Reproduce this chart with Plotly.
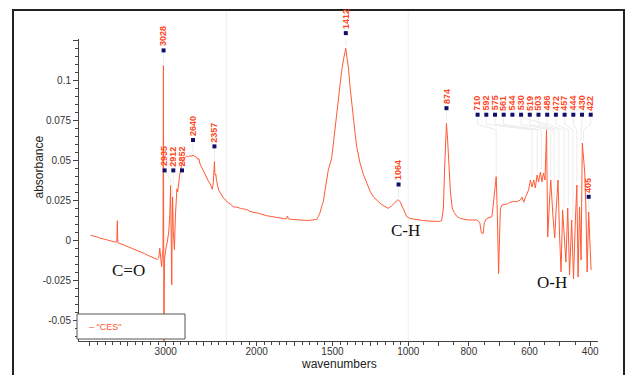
import numpy as np
import plotly.graph_objects as go

# ---------------- data ----------------
series_name = '"CES"'

wavenumber = [
    3990, 3960, 3930, 3900, 3870, 3840, 3800, 3770, 3740, 3700, 3665, 3645, 3638, 3632,
    3600, 3560, 3520, 3480, 3440, 3400, 3360, 3320, 3280, 3240, 3200, 3160, 3130, 3112,
    3092, 3078, 3066, 3054, 3043, 3036, 3030, 3024, 3016, 3005, 2995, 2978, 2960, 2946,
    2936, 2928, 2920, 2915, 2909, 2900, 2885, 2872, 2852, 2842, 2825, 2811, 2790, 2767,
    2745, 2723, 2700, 2680, 2660, 2640, 2615, 2591, 2575, 2563, 2547, 2525, 2504, 2480,
    2459, 2437, 2416, 2398, 2385, 2372, 2362, 2357, 2351, 2345, 2339, 2330, 2313, 2300,
    2285, 2270, 2255, 2240, 2225, 2210, 2197, 2185, 2170, 2154, 2135, 2120, 2100, 2080,
    2065, 2044, 2025, 2005, 1989, 1970, 1956, 1935, 1910, 1880, 1860, 1846, 1825, 1805,
    1797, 1790, 1770, 1745, 1714, 1690, 1665, 1640, 1620, 1604, 1593, 1582, 1571, 1560,
    1549, 1538, 1527, 1516, 1505, 1498, 1490, 1486, 1480, 1472, 1461, 1450, 1439, 1425,
    1412, 1403, 1395, 1384, 1373, 1362, 1350, 1340, 1318, 1296, 1274, 1252, 1230, 1208,
    1186, 1160, 1131, 1109, 1085, 1068, 1054, 1032, 1010, 995, 975, 950, 925, 900,
    890, 884, 880, 876, 874, 870, 866, 861, 855, 848, 839, 828, 806, 785,
    773, 764, 759, 753, 749, 742, 730, 724, 718, 714, 710, 707, 704, 702,
    699, 696, 691, 684, 678, 672, 666, 660, 652, 645, 638, 630, 625, 619,
    613, 608, 603, 597, 592, 586, 581, 575, 570, 564, 559, 554, 549, 544,
    540, 534, 530, 523, 517, 512, 506, 501, 496, 491, 485, 480, 474, 468,
    461, 455, 449, 444, 440, 435, 430, 426, 418, 414, 410, 405, 397,
]

absorbance = [
    0.0030, 0.0027, 0.0021, 0.0018, 0.0012, 0.0010, 0.0004, 0.0000, -0.0004, -0.0008, -0.0013, -0.0011, 0.0120, -0.0016,
    -0.0022, -0.0030, -0.0036, -0.0045, -0.0052, -0.0060, -0.0068, -0.0076, -0.0085, -0.0095, -0.0103, -0.0110, -0.0116, -0.0121,
    -0.0112, -0.0052, -0.0110, -0.0167, -0.0085, -0.0060, 0.1090, -0.0700, -0.0120, -0.0060, -0.0045, -0.0010, 0.0050, 0.0150,
    0.0340, 0.0040, -0.0280, 0.0080, 0.0270, 0.0060, -0.0060, 0.0150, 0.0320, 0.0300, 0.0380, 0.0420, 0.0470, 0.0500,
    0.0515, 0.0525, 0.0520, 0.0527, 0.0523, 0.0530, 0.0521, 0.0517, 0.0503, 0.0508, 0.0475, 0.0452, 0.0427, 0.0405,
    0.0386, 0.0368, 0.0354, 0.0330, 0.0317, 0.0360, 0.0455, 0.0490, 0.0415, 0.0405, 0.0412, 0.0372, 0.0333, 0.0310,
    0.0298, 0.0282, 0.0276, 0.0262, 0.0258, 0.0248, 0.0240, 0.0232, 0.0222, 0.0208, 0.0206, 0.0200, 0.0196, 0.0193,
    0.0190, 0.0178, 0.0176, 0.0170, 0.0167, 0.0160, 0.0156, 0.0152, 0.0148, 0.0142, 0.0139, 0.0135, 0.0133, 0.0131,
    0.0150, 0.0132, 0.0129, 0.0127, 0.0125, 0.0123, 0.0122, 0.0124, 0.0126, 0.0129, 0.0146, 0.0170, 0.0210, 0.0240,
    0.0310, 0.0380, 0.0440, 0.0475, 0.0515, 0.0570, 0.0640, 0.0655, 0.0705, 0.0760, 0.0880, 0.0970, 0.1060, 0.1140,
    0.1198, 0.1130, 0.1080, 0.0958, 0.0850, 0.0750, 0.0660, 0.0583, 0.0480, 0.0410, 0.0354, 0.0305, 0.0270, 0.0248,
    0.0230, 0.0212, 0.0198, 0.0215, 0.0240, 0.0252, 0.0240, 0.0188, 0.0146, 0.0135, 0.0128, 0.0121, 0.0118, 0.0116,
    0.0120, 0.0200, 0.0450, 0.0690, 0.0729, 0.0620, 0.0500, 0.0300, 0.0200, 0.0170, 0.0146, 0.0135, 0.0126, 0.0126,
    0.0125, 0.0108, 0.0045, 0.0040, 0.0110, 0.0133, 0.0140, 0.0146, 0.0250, 0.0350, 0.0396, 0.0220, -0.0040, -0.0210,
    0.0020, 0.0195, 0.0219, 0.0222, 0.0228, 0.0226, 0.0234, 0.0236, 0.0242, 0.0238, 0.0246, 0.0250, 0.0268, 0.0236,
    0.0270, 0.0290, 0.0313, 0.0375, 0.0331, 0.0375, 0.0325, 0.0406, 0.0363, 0.0425, 0.0363, 0.0419, 0.0375, 0.0688,
    0.0019, 0.0250, 0.0375, 0.0156, 0.0013, 0.0200, 0.0375, 0.0031, -0.0200, 0.0188, 0.0000, -0.0138, 0.0200, -0.0219,
    0.0125, -0.0244, 0.0113, 0.0344, -0.0231, 0.0206, -0.0125, 0.0606, 0.0425, 0.0188, -0.0200, 0.0175, -0.0188,
]

# peak labels, grouped as the instrument software stacked them
peak_label_groups = [
    [3028], [2935, 2912, 2852], [2640], [2357], [1412], [1064], [874],
    [710, 592, 575, 561, 544, 530, 519, 503, 486, 472, 457, 444, 430, 422],
    [405],
]

x_labeled_ticks = [3000, 2000, 1500, 1000, 800, 600, 400]
x_unlabeled_ticks = [4000, 3500, 2500, 1750, 1250, 900, 700, 500]
y_ticks = [-0.05, -0.025, 0, 0.025, 0.05, 0.075, 0.1, 0.125]
y_tick_text = ["-0.05", "-0.025", "0", "0.025", "0.05", "0.075", "0.1", ""]

band_names = ["C=O", "C-H", "O-H"]
band_wavenumbers = [3495, 1020, 525]
band_absorbance = [-0.0192, 0.0062, -0.0267]

# ---------------- piecewise (expanded) wavenumber scale ----------------
# the instrument plots with scale changes at 2200 and 1000 cm-1 (x1, x2, x4)
S = 0.0758
U3000 = 165.7
U2200 = U3000 + 800 * S
U1000 = U2200 + 1200 * 2 * S
U400 = U1000 + 600 * 4 * S
U4000 = U3000 - 1000 * S
U300 = U400 + 100 * 4 * S


def to_u(w):
    w = np.asarray(w, dtype=float)
    return np.interp(w, [300, 400, 1000, 2200, 4000], [U300, U400, U1000, U2200, U4000])


X0, X1 = 79.0, 598.0           # plot area in page px (u is page px)
Y0, Y1 = -0.063125, 0.125625
PX_PER_UNIT = 1600.0
W_PLOT = X1 - X0
H_PLOT = (Y1 - Y0) * PX_PER_UNIT
BOTTOM_PX = 341.0


def px(xp):
    return (xp - X0) / W_PLOT


def py(yp):
    return (BOTTOM_PX - yp) / H_PLOT


def pv(v):
    return (v - Y0) / (Y1 - Y0)


wn = np.array(wavenumber, dtype=float)
ab = np.array(absorbance, dtype=float)
u = to_u(wn)

LINE = "#ff5a36"
LABEL = "#ff4422"


def peak_top(w):
    m = np.abs(wn - w) <= 6
    return float(ab[m].max()) if m.any() else float(np.interp(-w, -wn, ab))


# ---------------- peak label layout ----------------
spacing = 8.7
shapes = []
lead_x, lead_y, label_ann = [], [], []
for grp in peak_label_groups:
    nat = to_u(grp)
    tops = [peak_top(w) for w in grp]
    level = max(tops) + 0.0095
    n = len(grp)
    if n == 1:
        pos = [float(nat[0])]
    else:
        c = float(np.mean(nat))
        pos = [c + (i - (n - 1) / 2) * spacing for i in range(n)]
        over = pos[-1] - (X1 - 7.3)
        if over > 0:
            pos = [p - over for p in pos]
    for w, p, nu, t in zip(grp, pos, nat, tops):
        k1 = level - 0.006
        k2 = level - 0.0095
        end = t + 0.0015
        if end > k2:
            end = min(end, k1)
            lead_x += [p, float(nu), float(nu), None]
            lead_y += [level, k1 if abs(p - nu) > 1 else end, end, None]
        else:
            lead_x += [p, p, float(nu), float(nu), None]
            lead_y += [level, k1, k2, end, None]
        # marker square (paper coords so it shows above the axis top too)
        cx, cy = px(p), pv(level)
        dx, dy = 2.0 / W_PLOT, 2.0 / H_PLOT
        shapes.append(dict(type="rect", xref="paper", yref="paper", x0=cx - dx, x1=cx + dx,
                           y0=cy - dy, y1=cy + dy, line=dict(width=0), fillcolor="#10106b", layer="above"))
        label_ann.append(dict(
            x=cx, y=cy, xref="paper", yref="paper", text=f"<b>{w}</b>", showarrow=False,
            textangle=-90, xanchor="center", yanchor="bottom", yshift=2,
            font=dict(size=9, color=LABEL, family="Liberation Sans, Arial"),
        ))

fig = go.Figure()
fig.add_trace(go.Scatter(x=lead_x, y=lead_y, mode="lines", line=dict(color="#ececec", width=1),
                         hoverinfo="skip", cliponaxis=False, showlegend=False))
fig.add_trace(go.Scatter(x=u, y=ab, mode="lines", name=series_name,
                         line=dict(color=LINE, width=1), showlegend=False))

# ticks
minor_w = list(range(4000, 2200, -100)) + list(range(2200, 1000, -50)) + list(range(1000, 390, -50))
maj_w = x_labeled_ticks + x_unlabeled_ticks
minor_w = [w for w in minor_w if w not in maj_w]
x_tickvals = list(to_u(maj_w))
x_ticktext = [str(w) for w in x_labeled_ticks] + [""] * len(x_unlabeled_ticks)
y_minor = [round(v, 4) for v in np.arange(-0.06, 0.1251, 0.005) if all(abs(v - t) > 1e-6 for t in y_ticks)]

AX = "#444444"
fig.update_xaxes(range=[X0, X1], showgrid=False, zeroline=False, showline=True, linecolor=AX, linewidth=1,
                 ticks="outside", ticklen=4, tickcolor=AX, tickwidth=1, ticklabelstandoff=-3,
                 tickmode="array", tickvals=x_tickvals, ticktext=x_ticktext,
                 tickfont=dict(size=10, color="#333333", family="Liberation Sans, Arial"),
                 minor=dict(tickmode="array", tickvals=list(to_u(minor_w)), ticks="outside",
                            ticklen=3, tickcolor=AX, showgrid=False))
fig.update_yaxes(range=[Y0, Y1], showgrid=False, zeroline=False, showline=True, linecolor=AX, linewidth=1,
                 ticks="outside", ticklen=5, tickcolor=AX, tickwidth=1,
                 tickmode="array", tickvals=y_ticks, ticktext=y_tick_text,
                 tickfont=dict(size=10, color="#333333", family="Liberation Sans, Arial"),
                 minor=dict(tickmode="array", tickvals=y_minor, ticks="outside",
                            ticklen=3, tickcolor=AX, showgrid=False))

for w in (2200, 1000):
    xx = px(float(to_u(w)))
    shapes.append(dict(type="line", xref="paper", yref="paper", x0=xx, x1=xx, y0=0, y1=py(10),
                       line=dict(color="#efefef", width=1), layer="below"))
# outer frame
shapes.append(dict(type="rect", xref="paper", yref="paper", x0=px(13), x1=px(624), y0=py(10), y1=py(390),
                   line=dict(color="#222222", width=2), fillcolor="rgba(0,0,0,0)", layer="above"))
# legend box
shapes.append(dict(type="rect", xref="paper", yref="paper", x0=px(77), x1=px(185), y0=py(339), y1=py(314),
                   line=dict(color="#555555", width=1), fillcolor="white", layer="above"))

annotations = list(label_ann)
annotations.append(dict(x=px(87), y=py(326.5), xref="paper", yref="paper", text="– " + series_name,
                        showarrow=False, xanchor="left", yanchor="middle",
                        font=dict(size=9, color=LINE, family="Liberation Sans, Arial")))
for name, bw, ba in zip(band_names, band_wavenumbers, band_absorbance):
    annotations.append(dict(x=float(to_u(bw)), y=ba, xref="x", yref="y", text=name, showarrow=False,
                            xanchor="center", yanchor="middle",
                            font=dict(size=17, color="#111111", family="Liberation Serif, Times New Roman")))
annotations.append(dict(x=px(39), y=py(167.5), xref="paper", yref="paper", text="absorbance",
                        showarrow=False, textangle=-90, xanchor="center", yanchor="middle",
                        font=dict(size=12, color="#222222", family="Liberation Sans, Arial")))
annotations.append(dict(x=px(339), y=py(364), xref="paper", yref="paper", text="wavenumbers",
                        showarrow=False, xanchor="center", yanchor="middle",
                        font=dict(size=12, color="#222222", family="Liberation Sans, Arial")))

fig.update_layout(width=629, height=375, margin=dict(l=79, r=31, t=39, b=34, pad=0),
                  plot_bgcolor="rgba(0,0,0,0)", paper_bgcolor="white", showlegend=False,
                  shapes=shapes, annotations=annotations)

fig.write_html("out.html")
